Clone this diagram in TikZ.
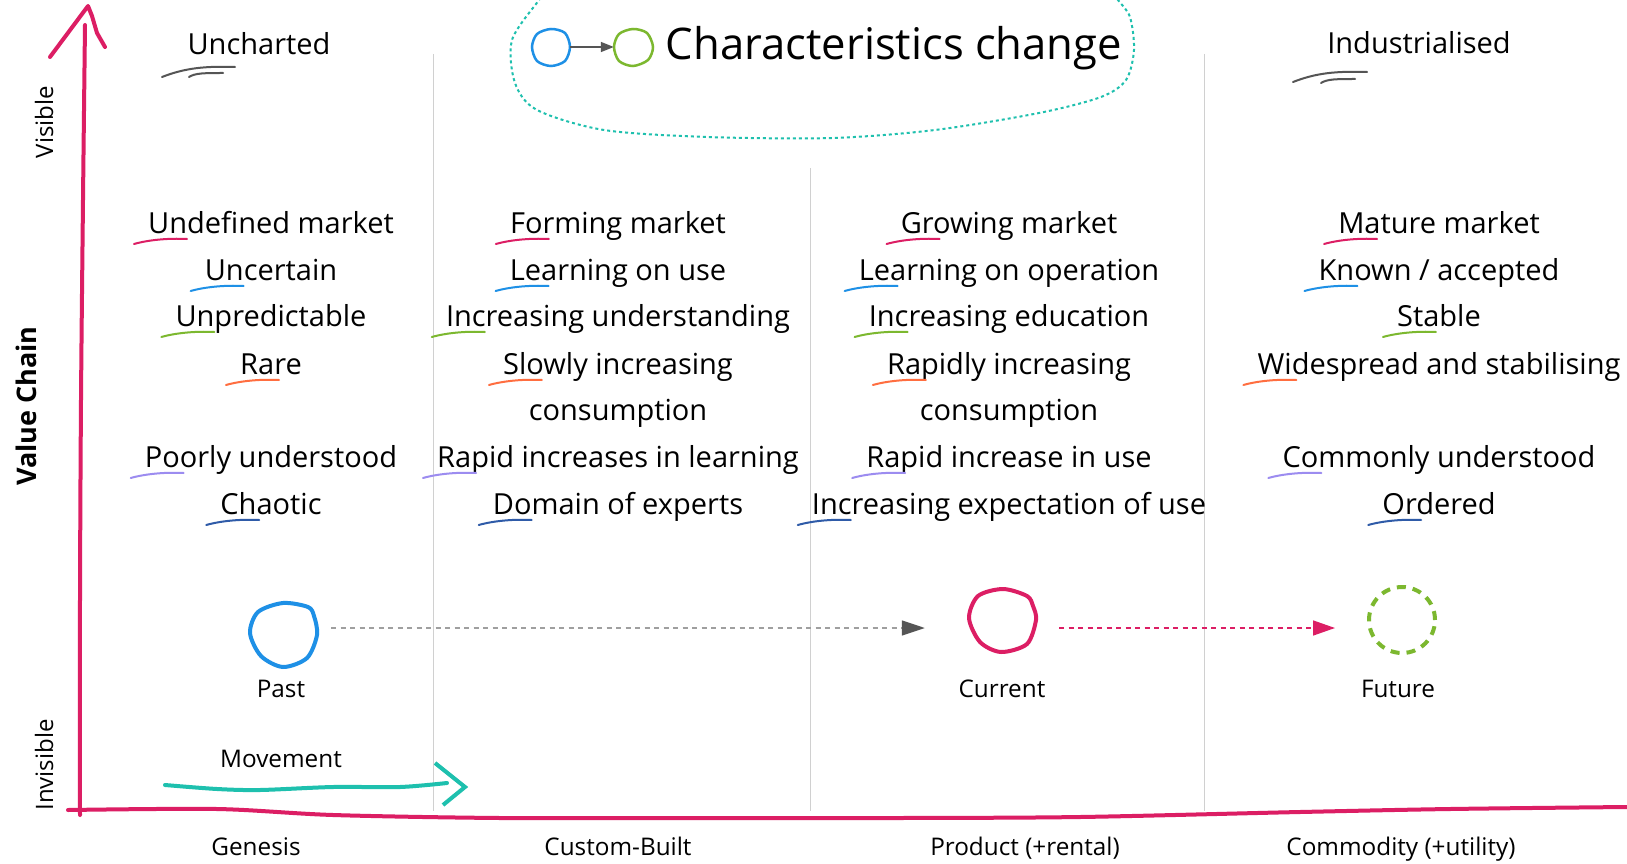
\documentclass[tikz,border=0pt]{standalone}
\usepackage{fontspec}
\setmainfont{Open Sans}
\usetikzlibrary{arrows.meta}
\definecolor{wpink}{HTML}{DC1E64}
\definecolor{wblue}{HTML}{1E90E6}
\definecolor{wgreen}{HTML}{7CB82F}
\definecolor{worange}{HTML}{FF6E40}
\definecolor{wpurple}{HTML}{9C8CF0}
\definecolor{wnavy}{HTML}{2F5BA8}
\definecolor{wteal}{HTML}{1EC0AE}
\definecolor{wdivider}{HTML}{D0D0D0}
\definecolor{wdark}{HTML}{555555}
\newcommand{\charitem}[5]{%
  \node[body] (#1) at (#2,#3) {#5};
  \draw[ul,draw=#4] ([shift={(-14,11)}]#1.base west) .. controls ([shift={(0,7)}]#1.base west) and ([shift={(20,5)}]#1.base west) .. ([shift={(39,6)}]#1.base west);}
\newcommand{\plainitem}[4]{\node[body] (#1) at (#2,#3) {#4};}
\begin{document}
\begin{tikzpicture}[x=1pt,y=-1pt,
  body/.style={anchor=base, inner sep=0pt, font=\fontsize{29}{34}\selectfont},
  smalllabel/.style={anchor=base, inner sep=0pt, font=\fontsize{24.3}{28}\selectfont},
  ul/.style={line width=2pt, line cap=round},
  divider/.style={draw=wdivider, line width=1pt},
  handpink/.style={draw=wpink, line width=4pt, line cap=round, line join=round},
  squiggle/.style={draw=wdark, line width=2pt, line cap=round},
  anchorcirc/.style={circle, minimum size=66pt, inner sep=0pt},
  greydash/.style={draw=gray!75, line width=1.5pt, dash pattern=on 5pt off 4.5pt, -{Triangle[length=23pt,width=15pt,fill=wdark,color=wdark]}},
  pinkdash/.style={draw=wpink, line width=1.5pt, dash pattern=on 5pt off 4.5pt, -{Triangle[length=22pt,width=15pt,fill=wpink,color=wpink]}},
]
\clip (0,0) rectangle (1627,864);
\fill[white] (0,0) rectangle (1627,864);

% dividers
\draw[divider] (433,54) -- (433,811);
\draw[divider] (810,168) -- (810,811);
\draw[divider] (1204,54) -- (1204,811);

% title blob
\draw[draw=wteal, line width=2pt, dash pattern=on 3pt off 3pt] plot[smooth] coordinates {(548,-12) (539,0) (512,40) (515,83) (537,110) (604,130) (707,137) (832,138) (935,130) (1039,113) (1101,97) (1126,80) (1134,50) (1130,17) (1118,0) (1110,-12)};
\draw[draw=wblue, line width=2.5pt] plot[smooth cycle] coordinates {(570,47) (565,33) (551,29) (537,34) (532,47) (537,61) (551,66) (565,61)};
\node[circle, minimum size=38pt, inner sep=0pt] (sblue) at (551,47) {};
\draw[draw=wgreen, line width=2.5pt] plot[smooth cycle] coordinates {(653,47) (647,33) (633,29) (619,34) (614,47) (619,61) (633,66) (648,60)};
\node[circle, minimum size=38pt, inner sep=0pt] (sgreen) at (633,47) {};
\draw[draw=wdark, line width=1.5pt, -{Triangle[length=13pt,width=10pt]}] (sblue) -- (sgreen);
\node[anchor=base, inner sep=0pt, font=\fontsize{43.6}{50}\selectfont] (title) at (894,60) {Characteristics change};

% headings
\node[body] (unch) at (259,55) {Uncharted};
\draw[squiggle] (162,77) .. controls (185,68) and (205,66) .. (235,67);
\draw[squiggle] (189,77) .. controls (195,73) and (205,73) .. (223,73);
\node[body] (indus) at (1419,54) {Industrialised};
\draw[squiggle] (1293,82) .. controls (1316,73) and (1336,71) .. (1367,72);
\draw[squiggle] (1321,83) .. controls (1327,79) and (1337,79) .. (1355,79);

% axis labels
\node[rotate=90, inner sep=0pt, font=\fontsize{24}{28}\selectfont] (vis) at (44,122) {Visible};
\node[rotate=90, inner sep=0pt, font=\fontsize{24}{28}\selectfont] (invis) at (44,765) {Invisible};
\node[rotate=90, inner sep=0pt, font=\fontsize{27}{30}\selectfont\bfseries] (vchain) at (26,406) {Value Chain};

% column 1
\charitem{aa}{271}{233}{wpink}{Undefined market}
\charitem{ab}{271}{280}{wblue}{Uncertain}
\charitem{ac}{271}{326}{wgreen}{Unpredictable}
\charitem{ad}{271}{374}{worange}{Rare}
\charitem{af}{271}{467}{wpurple}{Poorly understood}
\charitem{ag}{271}{514}{wnavy}{Chaotic}
% column 2
\charitem{ba}{618}{233}{wpink}{Forming market}
\charitem{bb}{618}{280}{wblue}{Learning on use}
\charitem{bc}{618}{326}{wgreen}{Increasing understanding}
\charitem{bd}{618}{374}{worange}{Slowly increasing}
\plainitem{be}{618}{420}{consumption}
\charitem{bf}{618}{467}{wpurple}{Rapid increases in learning}
\charitem{bg}{618}{514}{wnavy}{Domain of experts}
% column 3
\charitem{ca}{1009}{233}{wpink}{Growing market}
\charitem{cb}{1009}{280}{wblue}{Learning on operation}
\charitem{cc}{1009}{326}{wgreen}{Increasing education}
\charitem{cd}{1009}{374}{worange}{Rapidly increasing}
\plainitem{ce}{1009}{420}{consumption}
\charitem{cf}{1009}{467}{wpurple}{Rapid increase in use}
\charitem{cg}{1009}{514}{wnavy}{Increasing expectation of use}
% column 4
\charitem{da}{1439}{233}{wpink}{Mature market}
\charitem{db}{1439}{280}{wblue}{Known / accepted}
\charitem{dc}{1439}{326}{wgreen}{Stable}
\charitem{dd}{1439}{374}{worange}{Widespread and stabilising}
\charitem{df}{1439}{467}{wpurple}{Commonly understood}
\charitem{dg}{1439}{514}{wnavy}{Ordered}

% evolution circles
\node[anchorcirc] (past) at (283,635) {};
\draw[draw=wblue, line width=4pt] plot[smooth cycle] coordinates {(250,633) (258,612) (283,603) (308,607) (314,616) (317,635) (307,658) (283,667) (261,656)};
\node[anchorcirc] (current) at (1002,620) {};
\draw[draw=wpink, line width=4pt] plot[smooth cycle] coordinates {(969,618) (978,596) (1003,589) (1027,596) (1033,606) (1036,620) (1027,644) (1001,652) (980,642)};
\node[anchorcirc, draw=wgreen, line width=4pt, dash pattern=on 9pt off 7pt] (future) at (1402,620) {};

\draw[greydash] ([shift={(15,-7)}]past.east) -- ([shift={(-44,8)}]current.west);
\draw[pinkdash] ([shift={(24,8)}]current.east) -- ([shift={(-32,8)}]future.west);

\node[smalllabel] (lpast) at (281,697) {Past};
\node[smalllabel] (lcur) at (1002,697) {Current};
\node[smalllabel] (lfut) at (1398,697) {Future};

% movement
\node[smalllabel] (lmove) at (281,767) {Movement};
\coordinate (mstart) at (165,785);
\coordinate (mend) at (447,783);
\draw[draw=wteal, line width=4pt, line cap=round] plot[smooth] coordinates {(165,785) (217,789) (260,790) (333,787) (400,787) (447,783)};
\draw[draw=wteal, line width=4pt, line join=miter] (435,763) -- (465,787) -- (443,805);

% axes
\draw[handpink] plot[smooth] coordinates {(80,815) (80,600) (81,400) (83,200) (85,25)};
\draw[handpink] (50,57) -- (88,6) -- (92,16) -- (97,33) -- (105,47);
\draw[handpink] plot[smooth] coordinates {(68,810) (217,809) (333,815) (500,818) (700,818) (900,818) (1080,817) (1300,812) (1450,809) (1627,807)};

% stage labels
\node[smalllabel] (gen) at (256,855) {Genesis};
\node[smalllabel] (cust) at (618,855) {Custom-Built};
\node[smalllabel] (prod) at (1025,855) {Product (+rental)};
\node[smalllabel] (comm) at (1401,855) {Commodity (+utility)};
\end{tikzpicture}
\end{document}
